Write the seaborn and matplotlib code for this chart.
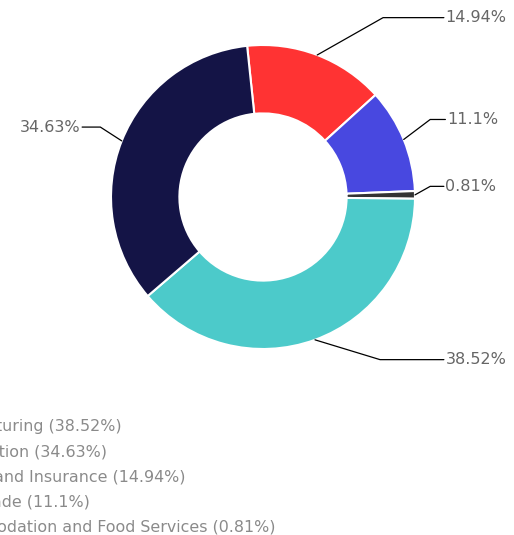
import numpy as np
import matplotlib
matplotlib.use('Agg')
import matplotlib.pyplot as plt
import seaborn as sns

# share of businesses by industry
industries = ['Finance and Insurance', 'Retail Trade', 'Accommodation and Food Services',
              'Manufacturing', 'Construction']
shares = [14.94, 11.1, 0.81, 38.52, 34.63]
colors = ['#ff3333', '#4848e0', '#333333', '#4ccaca', '#141446']
legend_order = ['Manufacturing', 'Construction', 'Finance and Insurance', 'Retail Trade',
                'Accommodation and Food Services']
# label anchor (text x, text y, elbow x) in pie units
label_pos = {'Finance and Insurance': (1.19, 1.18, 0.79),
             'Retail Trade': (1.20, 0.51, 1.10),
             'Accommodation and Food Services': (1.19, 0.07, 1.10),
             'Manufacturing': (1.19, -1.07, 0.77),
             'Construction': (-1.19, 0.46, -1.07)}

sns.set_style('white')
plt.rcParams['font.family'] = ['DejaVu Sans']

fig = plt.figure(figsize=(5.14, 5.35), dpi=100)
ax = fig.add_axes([0, 0, 1, 1])
wedges, _ = ax.pie(shares, colors=colors, startangle=96, counterclock=False, radius=1,
                   wedgeprops=dict(width=0.45, edgecolor='white', linewidth=1.5))
ax.set_xlim(-263 / 152, (514 - 263) / 152)
ax.set_ylim((197 - 535) / 152, 197 / 152)
ax.set_aspect('auto')
ax.axis('off')

for w, name, val in zip(wedges, industries, shares):
    mid = np.deg2rad((w.theta1 + w.theta2) / 2)
    px, py = np.cos(mid), np.sin(mid)
    tx, ty, ex = label_pos[name]
    ax.plot([px, ex, tx], [py, ty, ty], color='black', lw=0.9)
    ax.text(tx + (0.01 if tx > 0 else -0.01), ty, f'{val:g}%', fontsize=11.5, color='#666666',
            ha='left' if tx > 0 else 'right', va='center')

handles = [wedges[industries.index(n)] for n in legend_order]
labels = [f'{n} ({shares[industries.index(n)]:g}%)' for n in legend_order]
leg = ax.legend(handles, labels, loc='upper left', frameon=False, fontsize=11.4,
                labelcolor='#8a8a8a', labelspacing=0.63, handlelength=0.8,
                borderaxespad=0, borderpad=0,
                bbox_to_anchor=(0, 1), bbox_transform=fig.transFigure)

# shift legend so the longest entry ends at 275 px and first row sits at 427 px
fig.canvas.draw()
r = fig.canvas.get_renderer()
texts = leg.get_texts()
ext = texts[-1].get_window_extent(r)
first = texts[0].get_window_extent(r)
lb = leg.get_window_extent(r)
dx = 275 - ext.x1
dy = (535 - 427) - (first.y0 + first.y1) / 2
leg.set_bbox_to_anchor(((lb.x0 + dx) / 514, (lb.y1 + dy) / 535), transform=fig.transFigure)

fig.savefig('out.png', dpi=100)
